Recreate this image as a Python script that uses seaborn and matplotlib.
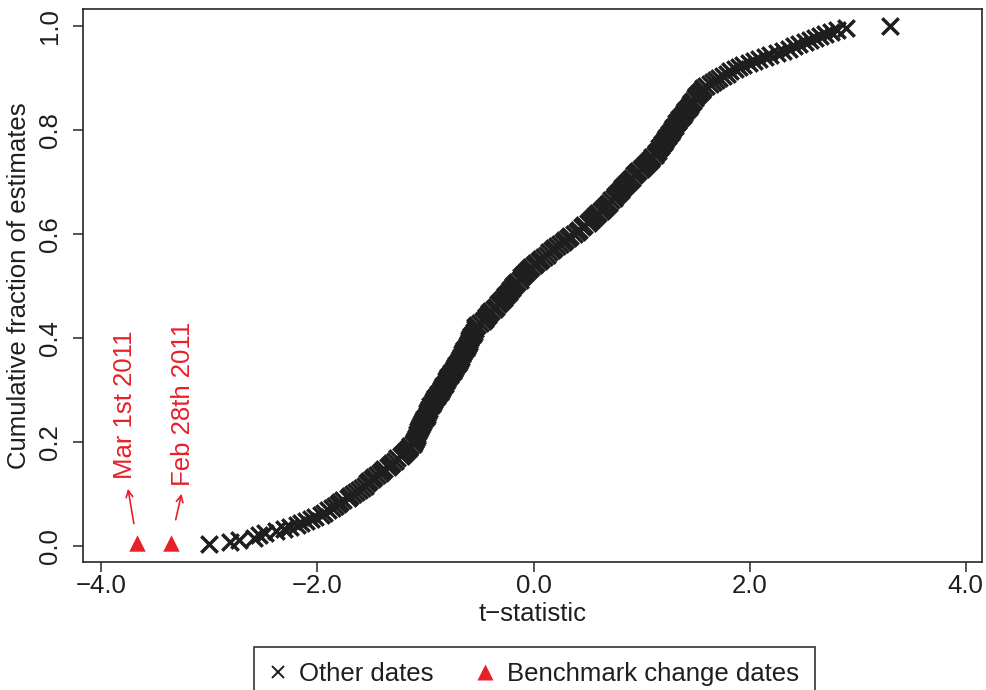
import numpy as np
import pandas as pd
import matplotlib
matplotlib.use("Agg")
import matplotlib.pyplot as plt
import seaborn as sns
from matplotlib.lines import Line2D

# t-statistics of the estimates on all other dates
other_t = [
    -3.00, -2.81, -2.73, -2.59, -2.54, -2.49, -2.38, -2.31, -2.25, -2.19,
    -2.15, -2.11, -2.06, -2.02, -1.97, -1.94, -1.90, -1.87, -1.84, -1.81,
    -1.79, -1.76, -1.72, -1.70, -1.67, -1.64, -1.62, -1.59, -1.56, -1.54,
    -1.52, -1.50, -1.48, -1.45, -1.42, -1.40, -1.38, -1.35, -1.33, -1.31,
    -1.28, -1.26, -1.23, -1.21, -1.19, -1.17, -1.15, -1.14, -1.12, -1.11,
    -1.10, -1.09, -1.08, -1.075, -1.07, -1.06, -1.05, -1.04, -1.03, -1.02,
    -1.01, -1.00, -0.99, -0.985, -0.98, -0.97, -0.955, -0.94, -0.93, -0.92,
    -0.91, -0.895, -0.88, -0.87, -0.86, -0.85, -0.835, -0.82, -0.81, -0.80,
    -0.79, -0.775, -0.76, -0.75, -0.74, -0.73, -0.715, -0.70, -0.69, -0.68,
    -0.67, -0.66, -0.65, -0.64, -0.63, -0.62, -0.61, -0.60, -0.595, -0.59,
    -0.58, -0.565, -0.555, -0.545, -0.54, -0.52, -0.50, -0.47, -0.45, -0.44,
    -0.425, -0.41, -0.39, -0.37, -0.35, -0.33, -0.31, -0.29, -0.275, -0.26,
    -0.245, -0.23, -0.215, -0.20, -0.19, -0.17, -0.15, -0.13, -0.12, -0.10,
    -0.08, -0.06, -0.04, -0.02, 0.00, 0.02, 0.05, 0.07, 0.10, 0.12,
    0.14, 0.17, 0.19, 0.22, 0.24, 0.27, 0.29, 0.32, 0.34, 0.37,
    0.40, 0.42, 0.45, 0.47, 0.50, 0.52, 0.54, 0.56, 0.58, 0.60,
    0.62, 0.64, 0.66, 0.68, 0.70, 0.72, 0.74, 0.755, 0.77, 0.79,
    0.81, 0.82, 0.84, 0.855, 0.87, 0.89, 0.91, 0.93, 0.95, 0.97,
    0.99, 1.01, 1.03, 1.05, 1.07, 1.085, 1.10, 1.12, 1.135, 1.15,
    1.165, 1.18, 1.19, 1.205, 1.22, 1.23, 1.245, 1.255, 1.27, 1.28,
    1.29, 1.31, 1.32, 1.335, 1.35, 1.365, 1.38, 1.39, 1.405, 1.42,
    1.435, 1.45, 1.46, 1.475, 1.49, 1.505, 1.52, 1.54, 1.555, 1.57,
    1.60, 1.63, 1.66, 1.69, 1.72, 1.75, 1.79, 1.82, 1.86, 1.90,
    1.94, 1.99, 2.04, 2.09, 2.14, 2.19, 2.25, 2.31, 2.36, 2.41,
    2.46, 2.51, 2.56, 2.60, 2.65, 2.70, 2.75, 2.81, 2.89, 3.30,
]

# the two benchmark change dates
bench_t = [-3.67, -3.36]
bench_frac = [0.006, 0.006]
bench_labels = ["Mar 1st 2011", "Feb 28th 2011"]

x_ticks = [-4.0, -2.0, 0.0, 2.0, 4.0]
x_tick_labels = ["\u22124.0", "\u22122.0", "0.0", "2.0", "4.0"]
y_ticks = [0.0, 0.2, 0.4, 0.6, 0.8, 1.0]
y_tick_labels = ["0.0", "0.2", "0.4", "0.6", "0.8", "1.0"]

legend_labels = ["Other dates", "Benchmark change dates"]

# empirical cumulative fraction of the other-date estimates
t_sorted = np.sort(np.asarray(other_t, dtype=float))
others = pd.DataFrame({"t": t_sorted,
                       "frac": np.arange(1, t_sorted.size + 1) / t_sorted.size})
bench = pd.DataFrame({"t": bench_t, "frac": bench_frac, "label": bench_labels})

INK = "#1e1e1e"
RED = "#e8202a"
FS = 18.5

sns.set_style("ticks")
plt.rcParams["font.family"] = ["Liberation Sans", "DejaVu Sans"]

fig = plt.figure(figsize=(9.87, 6.9), dpi=100)
ax = fig.add_axes([83 / 987, 128 / 690, 899 / 987, 553 / 690])

sns.scatterplot(data=others, x="t", y="frac", marker="x", s=140,
                color=INK, linewidth=2.5, ax=ax, legend=False, zorder=3)
sns.scatterplot(data=bench, x="t", y="frac", marker="^", s=140,
                color=RED, linewidth=0, ax=ax, legend=False, zorder=3)

# arrows and rotated labels above the benchmark markers (offsets in pixels)
arrow_heads = [(-9, 54), (11, 49)]
arrow_shrink = [14, 17]
label_offsets = [(-12, 64), (12, 57)]
for (t, f, lab), head, shr, off in zip(bench[["t", "frac", "label"]].values,
                                      arrow_heads, arrow_shrink, label_offsets):
    ax.annotate("", xy=(t, f), xytext=head, textcoords="offset pixels",
                arrowprops=dict(arrowstyle="<-", color=RED, lw=1.2,
                                shrinkA=0, shrinkB=shr, mutation_scale=12))
    ax.annotate(lab, xy=(t, f), xytext=off, textcoords="offset pixels",
                rotation=90, ha="center", va="bottom", color=RED, fontsize=FS)

ax.set_xlim(-4.17, 4.15)
ax.set_ylim(-0.031, 1.032)
ax.set_xticks(x_ticks)
ax.set_xticklabels(x_tick_labels)
ax.set_yticks(y_ticks)
ax.set_yticklabels(y_tick_labels, rotation=90, va="center")

ax.set_xlabel("t\u2212statistic", fontsize=FS, labelpad=3, color=INK)
ax.set_ylabel("Cumulative fraction of estimates", fontsize=FS, labelpad=5, color=INK)

for sp in ax.spines.values():
    sp.set_visible(True)
    sp.set_linewidth(1.2)
    sp.set_color("#262626")
ax.tick_params(axis="both", direction="out", length=7, width=1.1,
               color="#262626", labelsize=FS, labelcolor=INK)
ax.tick_params(axis="x", pad=1.5)
ax.tick_params(axis="y", pad=8)

handles = [
    Line2D([], [], ls="none", marker="x", ms=8, mew=1.4, color=INK),
    Line2D([], [], ls="none", marker="^", ms=11.5, color=RED, mec="none"),
]
leg = fig.legend(handles, legend_labels, loc="upper center",
                 bbox_to_anchor=(534.5 / 987, 43 / 690), ncol=2,
                 frameon=True, fancybox=False, framealpha=1,
                 edgecolor="#333333", fontsize=FS, borderpad=0.6,
                 handlelength=0.6, handletextpad=0.55, columnspacing=1.7,
                 borderaxespad=0)
leg.get_frame().set_linewidth(1.2)
for txt in leg.get_texts():
    txt.set_color(INK)

fig.savefig("out.png", dpi=100, facecolor="white")
